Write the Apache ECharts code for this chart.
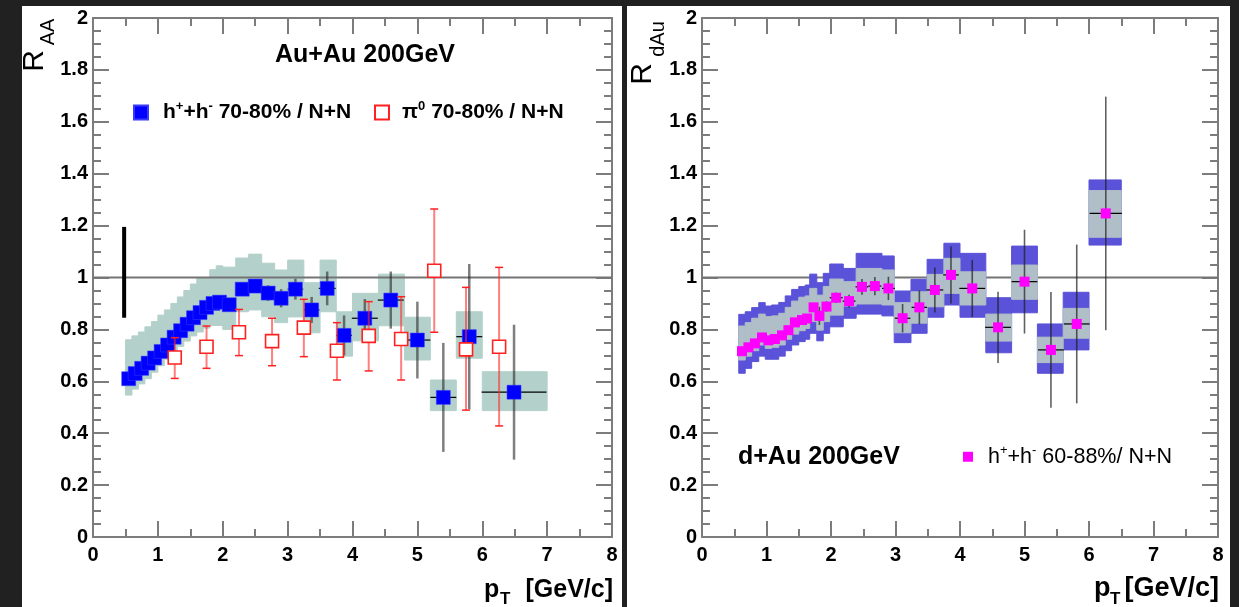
<!DOCTYPE html>
<html><head><meta charset="utf-8">
<script src="https://cdn.jsdelivr.net/npm/echarts@6/dist/echarts.min.js"></script>
<style>
html,body{margin:0;padding:0;background:#212121;width:1239px;height:607px;overflow:hidden}
#p1{position:absolute;left:22px;top:6px;width:600px;height:601px;background:#fff}
#p2{position:absolute;left:627px;top:6px;width:603px;height:601px;background:#fff}
#chart{position:absolute;left:0;top:0;width:1239px;height:607px}
</style></head><body>
<div id="p1"></div><div id="p2"></div><div id="chart"></div>
<script>
// ---------- Left panel: Au+Au 70-80% ----------
const hadPt = [0.55,0.65,0.75,0.85,0.95,1.05,1.15,1.25,1.35,1.45,1.55,1.65,1.75,1.85,1.95,2.1,2.3,2.5,2.7,2.9,3.12,3.37,3.61,3.87,4.19,4.59,5.0,5.4,5.8,6.49];
const hadR = [0.61,0.63,0.65,0.67,0.69,0.715,0.74,0.77,0.795,0.82,0.845,0.865,0.885,0.9,0.905,0.895,0.955,0.967,0.94,0.92,0.955,0.875,0.958,0.777,0.843,0.913,0.759,0.538,0.772,0.558];
const hadStat = [0.006,0.006,0.006,0.006,0.007,0.007,0.007,0.008,0.008,0.009,0.009,0.01,0.011,0.012,0.013,0.015,0.02,0.025,0.03,0.035,0.04,0.05,0.065,0.077,0.074,0.11,0.148,0.21,0.28,0.26];
const hadXerr = [0.05,0.05,0.05,0.05,0.05,0.05,0.05,0.05,0.05,0.05,0.05,0.05,0.05,0.05,0.05,0.1,0.1,0.1,0.1,0.1,0.12,0.12,0.13,0.12,0.2,0.2,0.2,0.2,0.2,0.5];
const hadSysXlo = [0.5,0.6,0.7,0.8,0.9,1.0,1.1,1.2,1.3,1.4,1.5,1.6,1.7,1.8,1.9,2.0,2.2,2.4,2.6,2.8,3.0,3.25,3.5,3.75,4.0,4.4,4.8,5.2,5.6,6.0];
const hadSysXhi = [0.6,0.7,0.8,0.9,1.0,1.1,1.2,1.3,1.4,1.5,1.6,1.7,1.8,1.9,2.0,2.2,2.4,2.6,2.8,3.0,3.25,3.5,3.75,4.0,4.4,4.8,5.2,5.6,6.0,7.0];
const hadSysLo = [0.547,0.57,0.59,0.61,0.635,0.66,0.685,0.71,0.735,0.755,0.775,0.79,0.805,0.815,0.815,0.80,0.868,0.875,0.849,0.826,0.848,0.787,0.868,0.697,0.756,0.814,0.682,0.487,0.689,0.487];
const hadSysHi = [0.76,0.775,0.79,0.81,0.83,0.855,0.875,0.9,0.925,0.95,0.975,1.0,1.0,1.03,1.045,1.04,1.075,1.09,1.055,1.029,1.067,0.98,1.067,0.868,0.939,1.013,0.847,0.605,0.868,0.637];

const pi0Pt = [1.26,1.75,2.25,2.76,3.25,3.76,4.25,4.75,5.26,5.75,6.26];
const pi0R  = [0.692,0.733,0.789,0.755,0.807,0.718,0.775,0.763,1.026,0.723,0.733];
const pi0Lo = [0.611,0.650,0.699,0.660,0.695,0.605,0.640,0.605,0.789,0.489,0.428];
const pi0Hi = [0.768,0.813,0.877,0.843,0.916,0.826,0.907,0.926,1.264,0.962,1.039];

const normPt = [0.48];
const normLo = [0.845];
const normHi = [1.195];

// ---------- Right panel: d+Au 60-88% ----------
const daPt = [0.62,0.72,0.82,0.93,1.03,1.13,1.24,1.34,1.44,1.55,1.63,1.73,1.82,1.93,2.08,2.28,2.48,2.68,2.89,3.11,3.37,3.61,3.86,4.19,4.59,5.0,5.41,5.81,6.26];
const daR  = [0.716,0.731,0.746,0.769,0.758,0.763,0.777,0.797,0.827,0.836,0.842,0.885,0.852,0.888,0.922,0.909,0.964,0.967,0.958,0.843,0.885,0.952,1.01,0.958,0.808,0.984,0.721,0.821,1.247];
const daStat = [0.008,0.008,0.008,0.008,0.009,0.009,0.009,0.01,0.01,0.011,0.012,0.015,0.035,0.02,0.02,0.025,0.03,0.035,0.045,0.055,0.065,0.087,0.11,0.11,0.137,0.2,0.223,0.306,0.45];
const daXerr = [0.05,0.05,0.05,0.05,0.05,0.05,0.05,0.05,0.05,0.05,0.04,0.05,0.05,0.05,0.1,0.1,0.1,0.1,0.1,0.12,0.12,0.13,0.12,0.2,0.2,0.2,0.2,0.2,0.25];
const daSysXlo = [0.57,0.67,0.77,0.88,0.98,1.08,1.19,1.29,1.39,1.5,1.6,1.67,1.78,1.88,1.98,2.19,2.39,2.59,2.79,2.98,3.24,3.49,3.75,4.0,4.4,4.8,5.2,5.6,6.0];
const daSysXhi = [0.67,0.77,0.88,0.98,1.08,1.19,1.29,1.39,1.5,1.6,1.67,1.78,1.88,1.98,2.19,2.39,2.59,2.79,2.98,3.24,3.49,3.75,4.0,4.4,4.8,5.2,5.6,6.0,6.5];
const daOuterLo = [0.631,0.650,0.676,0.697,0.685,0.685,0.697,0.718,0.740,0.753,0.762,0.785,0.756,0.785,0.810,0.843,0.859,0.859,0.852,0.749,0.785,0.847,0.894,0.847,0.710,0.864,0.631,0.721,1.125];
const daOuterHi = [0.858,0.868,0.884,0.903,0.890,0.894,0.904,0.929,0.954,0.965,0.971,1.013,0.980,1.016,1.052,1.035,1.093,1.093,1.083,0.948,0.993,1.07,1.132,1.093,0.922,1.121,0.821,0.943,1.376];
const daInnerLo = [0.682,0.697,0.718,0.740,0.727,0.731,0.740,0.762,0.782,0.795,0.804,0.830,0.797,0.830,0.855,0.890,0.898,0.898,0.894,0.787,0.824,0.887,0.939,0.894,0.755,0.916,0.672,0.766,1.155];
const daInnerHi = [0.813,0.826,0.843,0.859,0.849,0.852,0.862,0.885,0.909,0.924,0.929,0.958,0.932,0.965,0.994,0.984,1.035,1.035,1.029,0.903,0.945,1.012,1.074,1.022,0.859,1.048,0.770,0.881,1.335];

const refX = [0, 8];
const refY = [1, 1];

const xTicks = [0,1,2,3,4,5,6,7,8];
const yTicks = [0,0.2,0.4,0.6,0.8,1,1.2,1.4,1.6,1.8,2];

// ---------- helpers ----------
const FONT = '"Liberation Sans", Arial, Helvetica, sans-serif';
const AX = '#7c7c7c';
function xAx(grid, pos){
  return {type:'value', gridIndex:grid, position:pos, min:xTicks[0], max:xTicks[xTicks.length-1], interval:1,
    axisLine:{show:true, onZero:false, lineStyle:{color:AX, width:2}},
    axisTick:{show:true, inside:true, length:16, lineStyle:{color:AX, width:2}},
    minorTick:{show:true, splitNumber:2, length:8, lineStyle:{color:AX, width:2}},
    splitLine:{show:false}, minorSplitLine:{show:false},
    axisLabel: pos==='bottom' ? {show:true, margin:8, color:'#000', fontWeight:'bold', fontSize:20, fontFamily:FONT, showMinLabel:true, showMaxLabel:true} : {show:false}
  };
}
function yAx(grid, pos){
  return {type:'value', gridIndex:grid, position:pos, min:yTicks[0], max:yTicks[yTicks.length-1], interval:0.2,
    axisLine:{show:true, onZero:false, lineStyle:{color:AX, width:2}},
    axisTick:{show:true, inside:true, length:16, lineStyle:{color:AX, width:2}},
    minorTick:{show:true, splitNumber:4, length:8, lineStyle:{color:AX, width:2}},
    splitLine:{show:false}, minorSplitLine:{show:false},
    axisLabel: pos==='left' ? {show:true, margin:5, color:'#000', fontWeight:'bold', fontSize:20, fontFamily:FONT, showMinLabel:true, showMaxLabel:true,
      formatter: v => (Math.round(v*10)/10).toString()} : {show:false}
  };
}
function boxRender(fill, stroke){
  return function(params, api){
    const p1 = api.coord([api.value(0), api.value(3)]);
    const p2 = api.coord([api.value(1), api.value(2)]);
    return {type:'rect', shape:{x:p1[0], y:p1[1], width:p2[0]-p1[0], height:p2[1]-p1[1]},
      style:{fill:fill, stroke:stroke, lineWidth:1}};
  };
}
function errRender(vCol, vW, hCol, hW, capW, capCol){
  return function(params, api){
    const x = api.value(0), y = api.value(1), lo = api.value(2), hi = api.value(3), xe = api.value(4);
    const a = api.coord([x, lo]), b = api.coord([x, hi]);
    const ch = [{type:'line', shape:{x1:a[0], y1:a[1], x2:b[0], y2:b[1]}, style:{stroke:vCol, lineWidth:vW}}];
    if (hCol) {
      const l = api.coord([x-xe, y]), r = api.coord([x+xe, y]);
      ch.push({type:'line', shape:{x1:l[0], y1:l[1], x2:r[0], y2:r[1]}, style:{stroke:hCol, lineWidth:hW}});
    }
    if (capW) {
      ch.push({type:'line', shape:{x1:a[0]-capW/2, y1:a[1], x2:a[0]+capW/2, y2:a[1]}, style:{stroke:capCol, lineWidth:1.5}});
      ch.push({type:'line', shape:{x1:b[0]-capW/2, y1:b[1], x2:b[0]+capW/2, y2:b[1]}, style:{stroke:capCol, lineWidth:1.5}});
    }
    return {type:'group', children:ch};
  };
}
function custom(name, xi, data, render, z){
  return {type:'custom', name:name, xAxisIndex:xi, yAxisIndex:xi, data:data, renderItem:render, z:z, silent:true, clip:true,
    encode:{x:0, y:1}};
}

const hadBoxData = hadPt.map((p,i)=>[hadSysXlo[i], hadSysXhi[i], hadSysLo[i], hadSysHi[i]]);
const hadErrData = hadPt.map((p,i)=>[p, hadR[i], hadR[i]-hadStat[i], hadR[i]+hadStat[i], hadXerr[i]]);
const pi0ErrData = pi0Pt.map((p,i)=>[p, pi0R[i], pi0Lo[i], pi0Hi[i], 0]);
const normData = normPt.map((p,i)=>[p, (normLo[i]+normHi[i])/2, normLo[i], normHi[i], 0]);
const daOuterData = daPt.map((p,i)=>[daSysXlo[i], daSysXhi[i], daOuterLo[i], daOuterHi[i]]);
const daInnerData = daPt.map((p,i)=>[daSysXlo[i], daSysXhi[i], daInnerLo[i], daInnerHi[i]]);
const daErrData = daPt.map((p,i)=>[p, daR[i], daR[i]-daStat[i], daR[i]+daStat[i], daXerr[i]]);

const richSup = (size, weight, gap) => ({
  h0:{fontSize:size, fontWeight:weight, fontFamily:FONT, color:'#000', padding:[0,0,0,gap], lineHeight:size+4},
  b:{fontSize:size, fontWeight:weight, fontFamily:FONT, color:'#000', lineHeight:size+4},
  s:{fontSize:Math.round(size*0.62), fontWeight:weight, fontFamily:FONT, color:'#000', verticalAlign:'top', lineHeight:Math.round(size*0.62)}
});

const option = {
  animation:false,
  backgroundColor:'transparent',
  grid:[{left:93, top:18, width:519, height:519}, {left:702, top:18, width:516, height:519}],
  xAxis:[xAx(0,'bottom'), xAx(0,'top'), xAx(1,'bottom'), xAx(1,'top')],
  yAxis:[yAx(0,'left'), yAx(0,'right'), yAx(1,'left'), yAx(1,'right')],
  legend:[
    {left:133, top:100, padding:0, itemWidth:14, itemHeight:14, selectedMode:false, data:['hAA'],
     formatter:()=>'{h0|h}{s|+}{b|+h}{s|-}{b| 70-80% / N+N}', textStyle:{rich:richSup(21,'bold',10)}},
    {left:374, top:100, padding:0, itemWidth:14, itemHeight:14, selectedMode:false, data:['pi0'],
     formatter:()=>'{h0|π}{s|0}{b| 70-80% / N+N}', textStyle:{rich:richSup(21,'bold',8)}},
    {left:963, top:444, padding:0, itemWidth:10, itemHeight:10, selectedMode:false, data:['hdAu'],
     formatter:()=>'{h0|h}{s|+}{b|+h}{s|-}{b| 60-88%/ N+N}', textStyle:{rich:richSup(21.5,'normal',10)}}
  ],
  series:[
    // left
    custom('hadSys', 0, hadBoxData, boxRender('#b3d1ca', '#b3d1ca'), 1),
    {type:'line', name:'ref1', xAxisIndex:0, yAxisIndex:0, data:refX.map((x,i)=>[x, refY[i]]), showSymbol:false, silent:true,
      lineStyle:{color:'#747474', width:2}, z:2},
    custom('norm', 0, normData, errRender('#000', 4), 3),
    custom('hadErr', 0, hadErrData, errRender('rgba(40,40,40,0.6)', 2.5, '#000', 1.2), 3),
    {type:'scatter', name:'hAA', xAxisIndex:0, yAxisIndex:0, data:hadPt.map((p,i)=>[p, hadR[i]]), symbol:'rect', symbolSize:14,
      itemStyle:{color:'#0000ff', borderColor:'#3a3aff', borderWidth:0.5, opacity:1}, silent:true, z:4},
    custom('pi0Err', 0, pi0ErrData, errRender('rgba(255,40,40,0.6)', 2, null, 0, 8, '#ff2020'), 5),
    {type:'scatter', name:'pi0', xAxisIndex:0, yAxisIndex:0, data:pi0Pt.map((p,i)=>[p, pi0R[i]]), symbol:'rect', symbolSize:13,
      itemStyle:{color:'#ffffff', borderColor:'#ff2020', borderWidth:1.6, opacity:1}, silent:true, z:6},
    // right
    {type:'line', name:'ref2', xAxisIndex:2, yAxisIndex:2, data:refX.map((x,i)=>[x, refY[i]]), showSymbol:false, silent:true,
      lineStyle:{color:'#747474', width:2}, z:1},
    custom('daOuter', 2, daOuterData, boxRender('#5a52d8', '#5a52d8'), 2),
    custom('daInner', 2, daInnerData, boxRender('#b0bec8', '#b0bec8'), 3),
    custom('daErr', 2, daErrData, errRender('rgba(30,30,30,0.7)', 1.6, '#000', 1.2), 4),
    {type:'scatter', name:'hdAu', xAxisIndex:2, yAxisIndex:2, data:daPt.map((p,i)=>[p, daR[i]]), symbol:'rect', symbolSize:10,
      itemStyle:{color:'#ff00ff', opacity:1}, silent:true, z:5}
  ],
  graphic:[
    {type:'text', x:365, y:55, style:{text:'Au+Au 200GeV', font:'bold 25px '+FONT, fill:'#000', align:'center', verticalAlign:'middle', textAlign:'center', textVerticalAlign:'middle'}},
    {type:'text', x:738, y:457, style:{text:'d+Au 200GeV', font:'bold 25px '+FONT, fill:'#000', align:'left', verticalAlign:'middle', textAlign:'left', textVerticalAlign:'middle'}},
    // y titles
    {type:'text', x:35, y:61, rotation:Math.PI/2, style:{text:'R', font:'30px '+FONT, fill:'#000', align:'center', verticalAlign:'middle', textAlign:'center', textVerticalAlign:'middle'}},
    {type:'text', x:48, y:32, rotation:Math.PI/2, style:{text:'AA', font:'20px '+FONT, fill:'#000', align:'center', verticalAlign:'middle', textAlign:'center', textVerticalAlign:'middle'}},
    {type:'text', x:643, y:74, rotation:Math.PI/2, style:{text:'R', font:'30px '+FONT, fill:'#000', align:'center', verticalAlign:'middle', textAlign:'center', textVerticalAlign:'middle'}},
    {type:'text', x:658, y:39, rotation:Math.PI/2, style:{text:'dAu', font:'20px '+FONT, fill:'#000', align:'center', verticalAlign:'middle', textAlign:'center', textVerticalAlign:'middle'}},
    // x titles
    {type:'text', x:484, y:590, style:{text:'p', font:'bold 25px '+FONT, fill:'#000', align:'left', verticalAlign:'middle', textAlign:'left', textVerticalAlign:'middle'}},
    {type:'text', x:500, y:599, style:{text:'T', font:'bold 17px '+FONT, fill:'#000', align:'left', verticalAlign:'middle', textAlign:'left', textVerticalAlign:'middle'}},
    {type:'text', x:613, y:590, style:{text:'[GeV/c]', font:'bold 25px '+FONT, fill:'#000', align:'right', verticalAlign:'middle', textAlign:'right', textVerticalAlign:'middle'}},
    {type:'text', x:1094, y:589, style:{text:'p', font:'bold 27px '+FONT, fill:'#000', align:'left', verticalAlign:'middle', textAlign:'left', textVerticalAlign:'middle'}},
    {type:'text', x:1110, y:599, style:{text:'T', font:'bold 17px '+FONT, fill:'#000', align:'left', verticalAlign:'middle', textAlign:'left', textVerticalAlign:'middle'}},
    {type:'text', x:1219, y:589, style:{text:'[GeV/c]', font:'bold 27px '+FONT, fill:'#000', align:'right', verticalAlign:'middle', textAlign:'right', textVerticalAlign:'middle'}}
  ]
};
const chart = echarts.init(document.getElementById('chart'), null, {renderer:'canvas'});
chart.setOption(option);
</script></body></html>
